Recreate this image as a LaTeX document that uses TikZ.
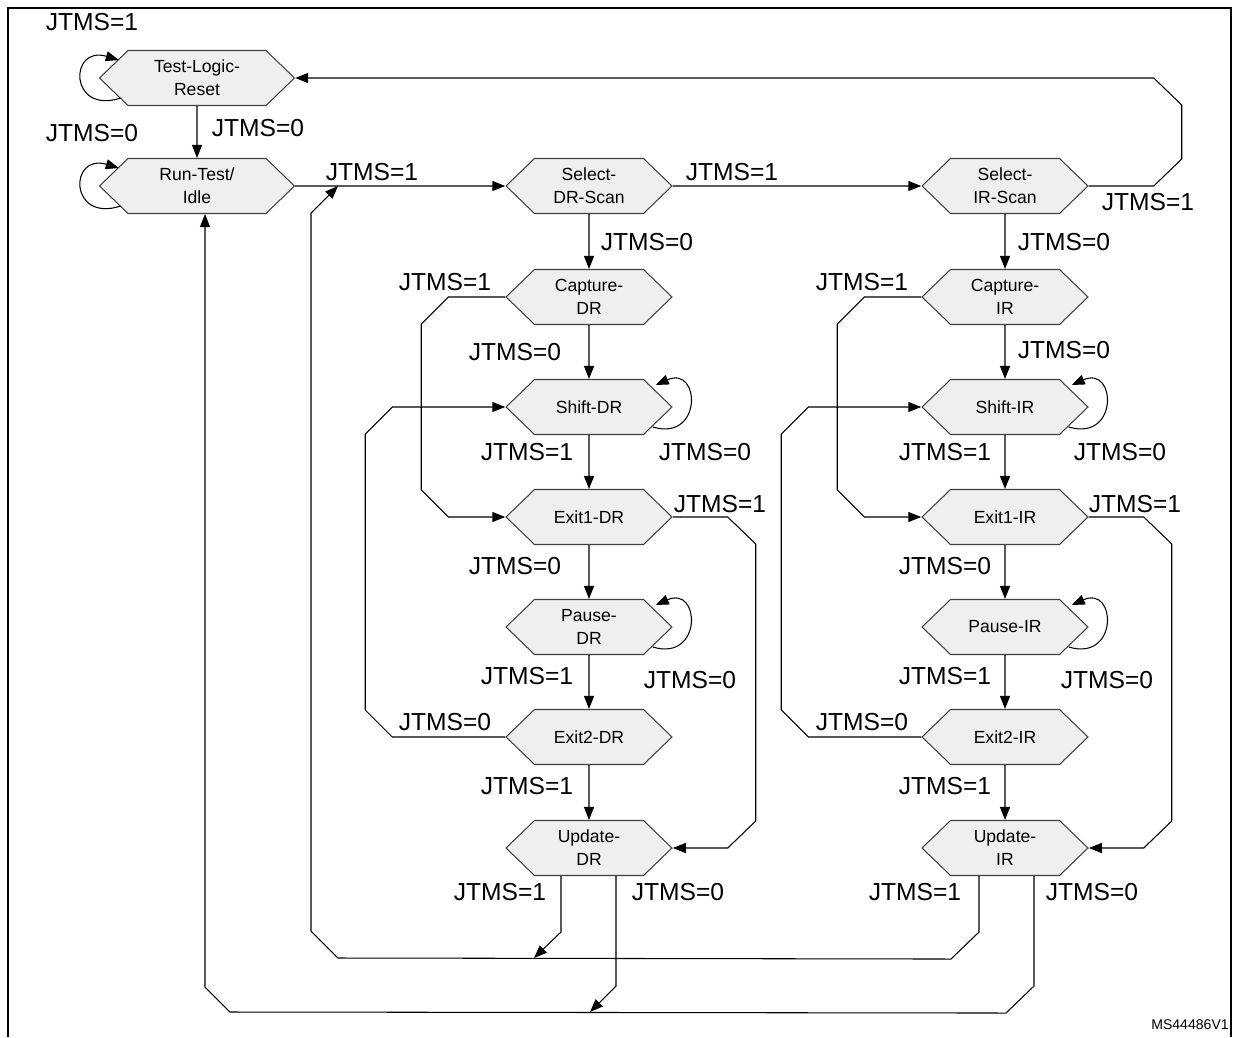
\documentclass[tikz,border=0pt]{standalone}
\usepackage{fontspec}
\setmainfont{Liberation Sans}
\usepackage{tikz}
\usetikzlibrary{shapes.symbols,arrows.meta,calc}
\definecolor{statefill}{HTML}{EFEFEF}
\definecolor{stateline}{HTML}{404040}

\begin{document}
\begin{tikzpicture}[
	x=0.02cm, y=-0.02cm,
	state/.style = {signal, signal to=east and west, signal pointer angle=88, draw=stateline, fill=statefill, line width=0.6pt,
		minimum width=3.32cm, minimum height=1.1cm, inner xsep=0pt, align=center, font=\fontsize{10}{13}\selectfont},
	widestate/.style = {state, minimum width=3.9cm},
	lbl/.style = {inner sep=0pt, font=\fontsize{14}{16}\selectfont},
	arr/.style = {-{Triangle[length=2.6mm,width=2mm]}, line width=0.6pt},
	wire/.style = {line width=0.6pt},
]
\useasboundingbox (0,0) rectangle (1239,1037);
\draw[line width=0.8pt] (8,1037) -- (8,8) -- (1231,8) -- (1231,1037);
\node[font=\fontsize{8}{9}\selectfont] (mark) at (1190,1025) {MS44486V1};

% states
\node[widestate] (tlr) at (197,78) {Test-Logic-\\Reset};
\node[widestate] (rti) at (197,186) {Run-Test/\\Idle};
\node[state] (sdr) at (589,186) {Select-\\DR-Scan};
\node[state] (sir) at (1005,186) {Select-\\IR-Scan};
\node[state] (cdr) at (589,297) {Capture-\\DR};
\node[state] (cir) at (1005,297) {Capture-\\IR};
\node[state] (shdr) at (589,407) {Shift-DR};
\node[state] (shir) at (1005,407) {Shift-IR};
\node[state] (e1dr) at (589,517) {Exit1-DR};
\node[state] (e1ir) at (1005,517) {Exit1-IR};
\node[state] (pdr) at (589,627) {Pause-\\DR};
\node[state] (pir) at (1005,627) {Pause-IR};
\node[state] (e2dr) at (589,737) {Exit2-DR};
\node[state] (e2ir) at (1005,737) {Exit2-IR};
\node[state] (udr) at (589,848) {Update-\\DR};
\node[state] (uir) at (1005,848) {Update-\\IR};

\coordinate (join-rti) at (338,186);
\coordinate (join-dr1) at (534,958);
\coordinate (join-dr0) at (590,1012);

% straight steps
\draw[arr] (tlr) -- (rti);
\draw[arr] (rti) -- (sdr);
\draw[arr] (sdr) -- (sir);
\draw[arr] (sdr) -- (cdr);
\draw[arr] (cdr) -- (shdr);
\draw[arr] (shdr) -- (e1dr);
\draw[arr] (e1dr) -- (pdr);
\draw[arr] (pdr) -- (e2dr);
\draw[arr] (e2dr) -- (udr);
\draw[arr] (sir) -- (cir);
\draw[arr] (cir) -- (shir);
\draw[arr] (shir) -- (e1ir);
\draw[arr] (e1ir) -- (pir);
\draw[arr] (pir) -- (e2ir);
\draw[arr] (e2ir) -- (uir);

% self loops
\draw[arr] ($(tlr.west)+(22,20)$) .. controls +(-52,17) and +(-50,-15) .. ($(tlr.west)+(20,-18)$);
\draw[arr] ($(rti.west)+(22,20)$) .. controls +(-52,17) and +(-50,-15) .. ($(rti.west)+(20,-18)$);
\draw[arr] ($(shdr.east)+(-20,20)$) .. controls +(50,15) and +(45,-20) .. ($(shdr.east)+(-17,-22)$);
\draw[arr] ($(pdr.east)+(-20,20)$) .. controls +(50,15) and +(45,-20) .. ($(pdr.east)+(-17,-22)$);
\draw[arr] ($(shir.east)+(-20,20)$) .. controls +(50,15) and +(45,-20) .. ($(shir.east)+(-17,-22)$);
\draw[arr] ($(pir.east)+(-20,20)$) .. controls +(50,15) and +(45,-20) .. ($(pir.east)+(-17,-22)$);

% side routes
\draw[arr] (sir.east) -- ++(65,0) -- ++(28,-27) -- ++(0,-54) -- ++(-28,-27) -- (tlr.east);
\draw[arr] (cdr.west) -- ++(-57,0) -- ++(-27,27) -- ++(0,166) -- ++(27,27) -- (e1dr.west);
\draw[arr] (cir.west) -- ++(-57,0) -- ++(-27,27) -- ++(0,166) -- ++(27,27) -- (e1ir.west);
\draw[arr] (e2dr.west) -- ++(-113,0) -- ++(-27,-27) -- ++(0,-276) -- ++(27,-27) -- (shdr.west);
\draw[arr] (e2ir.west) -- ++(-113,0) -- ++(-27,-27) -- ++(0,-276) -- ++(27,-27) -- (shir.west);
\draw[arr] (e1dr.east) -- ++(55,0) -- ++(28,27) -- ++(0,277) -- ++(-28,27) -- (udr.east);
\draw[arr] (e1ir.east) -- ++(55,0) -- ++(28,27) -- ++(0,277) -- ++(-28,27) -- (uir.east);

% back to idle / select
\draw[arr] ($(udr.south)+(-28,0)$) -- ++(0,56) -- (join-dr1);
\draw[arr] ($(uir.south)+(-26,0)$) -- ++(0,56) -- ++(-28,27) -- (338,958) -- ++(-27,-27) -- (311,213) -- (join-rti);
\draw[arr] ($(udr.south)+(27,0)$) -- ++(0,110) -- (join-dr0);
\draw[arr] ($(uir.south)+(29,0)$) -- ++(0,110) -- ++(-28,27) -- (230,1012) -- ++(-25,-25) -- (rti.south -| 205,0);

% labels
\node[lbl] (l-tlr1) at (92,22) {JTMS=1};
\node[lbl] (l-tlr0) at (258,128) {JTMS=0};
\node[lbl] (l-rti0) at (92,133) {JTMS=0};
\node[lbl] (l-rti1) at (372,172) {JTMS=1};
\node[lbl] (l-sdr1) at (732,172) {JTMS=1};
\node[lbl] (l-sir1) at (1148,202) {JTMS=1};
\node[lbl] (l-sdr0) at (647,242) {JTMS=0};
\node[lbl] (l-sir0) at (1064,242) {JTMS=0};
\node[lbl] (l-cdr1) at (445,282) {JTMS=1};
\node[lbl] (l-cir1) at (862,282) {JTMS=1};
\node[lbl] (l-cdr0) at (515,352) {JTMS=0};
\node[lbl] (l-cir0) at (1064,350) {JTMS=0};
\node[lbl] (l-shdr0) at (705,452) {JTMS=0};
\node[lbl] (l-shir0) at (1120,452) {JTMS=0};
\node[lbl] (l-shdr1) at (527,452) {JTMS=1};
\node[lbl] (l-shir1) at (945,452) {JTMS=1};
\node[lbl] (l-e1dr1) at (720,504) {JTMS=1};
\node[lbl] (l-e1ir1) at (1135,504) {JTMS=1};
\node[lbl] (l-e1dr0) at (515,566) {JTMS=0};
\node[lbl] (l-e1ir0) at (945,566) {JTMS=0};
\node[lbl] (l-pdr0) at (690,680) {JTMS=0};
\node[lbl] (l-pir0) at (1107,680) {JTMS=0};
\node[lbl] (l-pdr1) at (527,676) {JTMS=1};
\node[lbl] (l-pir1) at (945,676) {JTMS=1};
\node[lbl] (l-e2dr0) at (445,722) {JTMS=0};
\node[lbl] (l-e2ir0) at (862,722) {JTMS=0};
\node[lbl] (l-e2dr1) at (527,786) {JTMS=1};
\node[lbl] (l-e2ir1) at (945,786) {JTMS=1};
\node[lbl] (l-udr1) at (500,892) {JTMS=1};
\node[lbl] (l-uir1) at (915,892) {JTMS=1};
\node[lbl] (l-udr0) at (678,892) {JTMS=0};
\node[lbl] (l-uir0) at (1092,892) {JTMS=0};
\end{tikzpicture}
\end{document}
